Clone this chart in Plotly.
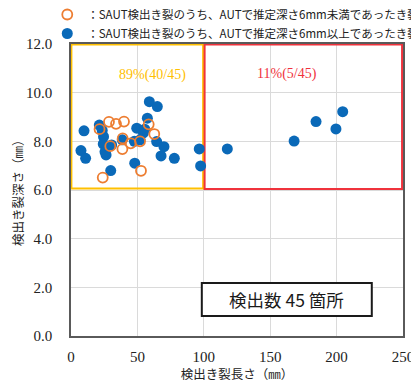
import plotly.graph_objects as go

# Crack length (mm) / depth (mm) for SAUT-detected cracks
# AUT-estimated depth under 6 mm (open markers)
under6_len = [28.6, 33.9, 39.9, 21.5, 58.5, 62.7, 38.9, 52.0, 45.0, 29.6, 38.7, 52.7, 23.9]
under6_dep = [8.80, 8.72, 8.81, 8.50, 8.70, 8.30, 8.12, 8.00, 7.92, 7.80, 7.68, 6.79, 6.51]

# AUT-estimated depth 6 mm or more (filled markers)
over6_len = [59.0, 65.0, 9.8, 21.3, 23.5, 57.5, 49.5, 54.5, 24.5, 24.3,
             7.5, 11.0, 26.4, 29.9, 48.0, 52.0, 64.5, 70.0, 67.8, 77.8,
             96.6, 97.6, 30.6, 38.6, 47.7, 25.6, 55.5,
             117.7, 168.0, 184.5, 199.5, 204.6]
over6_dep = [9.63, 9.43, 8.43, 8.67, 8.45, 8.95, 8.54, 8.35, 8.19, 7.89,
             7.62, 7.30, 7.44, 6.80, 7.10, 8.06, 7.99, 7.78, 7.40, 7.30,
             7.69, 6.99, 7.85, 8.06, 8.00, 7.57, 8.50,
             7.69, 8.01, 8.81, 8.51, 9.22]

x_ticks = [0, 50, 100, 150, 200, 250]
y_ticks = [0, 2, 4, 6, 8, 10, 12]

total = len(under6_len) + len(over6_len)
short_n = sum(1 for v in under6_len + over6_len if v < 100)
long_n = total - short_n

BLUE = "#0A69B8"
ORANGE = "#ED7D31"
GOLD = "#FFC000"
RED = "#F0323C"
JP = "Noto Sans CJK JP"
SERIF = "Liberation Serif"

fig = go.Figure()

fig.add_trace(go.Scatter(
    x=over6_len, y=over6_dep, mode="markers",
    name="：SAUT検出き裂のうち、AUTで推定深さ6mm以上であったき裂",
    marker=dict(color=BLUE, size=11, line=dict(width=0)),
))
fig.add_trace(go.Scatter(
    x=under6_len, y=under6_dep, mode="markers",
    name="：SAUT検出き裂のうち、AUTで推定深さ6mm未満であったき裂",
    marker=dict(symbol="circle-open", color=ORANGE, size=10, line=dict(width=1.8)),
))

# Short / long crack regions
fig.add_shape(type="rect", xref="x", yref="y", x0=0.3, x1=99.5, y0=6.06, y1=11.98,
              line=dict(color=GOLD, width=2), layer="between")
fig.add_shape(type="rect", xref="x", yref="y", x0=100.6, x1=249.3, y0=6.04, y1=11.98,
              line=dict(color=RED, width=2), layer="between")

fig.add_annotation(x=61, y=10.72, xref="x", yref="y", showarrow=False,
                   text=f"{round(short_n / total * 100)}%({short_n}/{total})",
                   font=dict(family=SERIF, size=14, color=GOLD))
fig.add_annotation(x=162.5, y=10.77, xref="x", yref="y", showarrow=False,
                   text=f"{round(long_n / total * 100)}%({long_n}/{total})",
                   font=dict(family=SERIF, size=14, color=RED))

# Count box
fig.add_shape(type="rect", xref="x", yref="y", x0=98.5, x1=226.5, y0=0.82, y1=2.18,
              line=dict(color="#1a1a1a", width=2), fillcolor="white", layer="above")
fig.add_annotation(x=162.5, y=1.5, xref="x", yref="y", showarrow=False,
                   text=f"検出数 {total} 箇所",
                   font=dict(family=JP, size=17.5, color="#1a1a1a"))

# Y-axis title, rotated
fig.add_annotation(x=0, y=0.5, xref="paper", yref="paper", xanchor="center", yanchor="middle",
                   xshift=-54, showarrow=False, textangle=-90,
                   text="検出き裂深さ（㎜）",
                   font=dict(family=JP, size=12.5, color="#222"))

fig.update_layout(
    width=411, height=383,
    margin=dict(l=71, r=8, t=44, b=47, autoexpand=False),
    paper_bgcolor="white", plot_bgcolor="white",
    showlegend=True,
    legend=dict(
        x=0.115, y=1.01, xanchor="left", yanchor="top",
        xref="container", yref="container",
        font=dict(family=JP, size=11.5, color="#222"),
        itemwidth=30, tracegroupgap=0,
        traceorder="reversed",
        bgcolor="rgba(0,0,0,0)",
    ),
    xaxis=dict(
        range=[0, 250], tickvals=x_ticks, ticktext=[str(v) for v in x_ticks],
        showgrid=True, gridcolor="#DADADA", gridwidth=1,
        showline=True, linecolor="#5a5a5a", linewidth=1.5, mirror=True,
        ticks="", zeroline=False, ticklabeloverflow="allow",
        ticklabelstandoff=6,
        tickfont=dict(family=SERIF, size=15, color="#222"),
        title=dict(text="検出き裂長さ（㎜）", font=dict(family=JP, size=12.5, color="#222"),
                   standoff=8),
    ),
    yaxis=dict(
        range=[0, 12], tickvals=y_ticks, ticktext=[f"{v:.1f}" for v in y_ticks],
        showgrid=True, gridcolor="#DADADA", gridwidth=1,
        showline=True, linecolor="#5a5a5a", linewidth=1.5, mirror=True,
        ticks="", zeroline=False,
        tickfont=dict(family=SERIF, size=15, color="#222"),
        ticklabelstandoff=14,
    ),
)

fig.write_html("out.html")
